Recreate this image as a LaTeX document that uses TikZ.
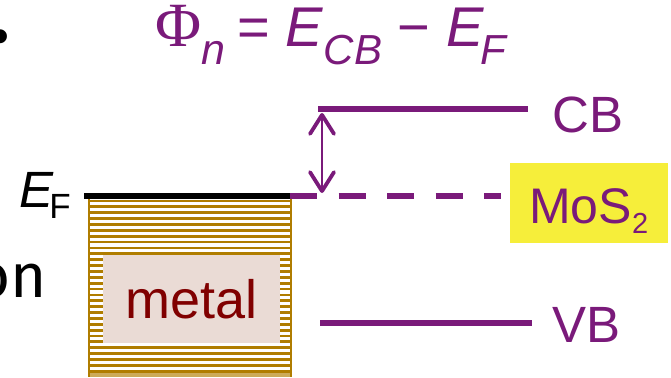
\documentclass[tikz,border=0pt]{standalone}
\usepackage{fontspec}
\setmainfont{Liberation Sans}
\newfontfamily\phifont{Liberation Serif}
\newfontfamily\handfont{Fira Sans}
\usetikzlibrary{arrows.meta,positioning}
\definecolor{bandpurple}{RGB}{122,26,122}
\definecolor{metalgold}{RGB}{176,125,0}
\definecolor{metalpink}{RGB}{234,219,213}
\definecolor{metalred}{RGB}{128,0,0}
\definecolor{mosyellow}{RGB}{246,238,58}
\newcommand{\fsz}[1]{\fontsize{#1}{#1}\selectfont}
\newcommand{\lowsub}[2]{\raisebox{#1}{#2}}

\begin{document}
\begin{tikzpicture}[x=1pt, y=-1pt,
    level/.style={line width=6.5pt, bandpurple},
    fermi/.style={line width=6pt, black},
    hatchline/.style={line width=2.8pt, metalgold},
    lbl/.style={text=bandpurple, font=\fsz{51}, inner sep=0pt},
    arr/.style={{Straight Barb[length=19pt, width=24pt, line width=3.8pt, round]}-{Straight Barb[length=19pt, width=24pt, line width=3.8pt, round]},
                line width=2.5pt, bandpurple},
]
    \useasboundingbox (0,0) rectangle (671,377);
    \clip (0,0) rectangle (671,377);

    % cut-off text at the left edge
    \node[anchor=base, inner sep=0pt, font=\handfont\fsz{100}] (dotfrag) at (0,43) {.};
    \node[anchor=base east, inner sep=0pt, font=\handfont\fsz{62}] (onfrag) at (47,297) {on};

    % formula
    \node[anchor=base west, inner sep=0pt, text=bandpurple] (phin) at (155,47)
        {{\phifont\fsz{63}Φ}\lowsub{-18pt}{\fsz{43}\itshape n}{\fsz{56}\kern-3pt{} = \textit{E}}\lowsub{-18pt}{\fsz{42}\itshape CB}{\fsz{56} − \textit{E}}\lowsub{-18pt}{\fsz{42}\kern-3pt\itshape F}};

    % metal
    \fill[white] (88,199) rectangle (292,377);
    \foreach \y in {201,206.87,...,372} \draw[hatchline] (89,\y) -- (292,\y);
    \fill[metalgold!65] (88,373) rectangle (292,377);
    \draw[metalgold, line width=2pt] (89,199) -- (89,377) (291,199) -- (291,377);
    \node[fill=metalpink, minimum width=177pt, minimum height=88pt, inner sep=0pt,
          text=metalred, font=\fsz{54}] (metal) at (191.5,299) {metal};

    % Fermi level
    \coordinate (efL) at (84,196);
    \coordinate (efR) at (290,196);
    \coordinate (efEnd) at (501,196);
    \draw[fermi] (efL) -- (efR);
    \draw[level, dash pattern=on 27pt off 21.5pt] (efR) -- (efEnd);
    \node[anchor=base east, inner sep=0pt] (eflabel) at (71,207)
        {\fsz{51}\textit{E}\kern-5pt\lowsub{-11pt}{\fsz{35}F}};

    % bands
    \coordinate (cbL) at (318,109);
    \coordinate (cbR) at (528,109);
    \coordinate (vbL) at (320,323);
    \coordinate (vbR) at (532,323);
    \draw[level] (cbL) -- (cbR);
    \draw[level] (vbL) -- (vbR);
    \node[lbl, anchor=base west] (cb) at (552,132) {CB};
    \node[lbl, anchor=base west] (vb) at (552,342) {VB};

    % barrier arrow
    \coordinate (arrTop) at (322,113);
    \coordinate (arrBot) at (322,193);
    \draw[arr] (arrTop) -- (arrBot);

    % semiconductor
    \node[fill=mosyellow, minimum width=158pt, minimum height=80pt, inner sep=0pt,
          anchor=north west] (mosbox) at (510,163) {};
    \node[anchor=base west, inner sep=0pt, text=bandpurple] (mos) at (529,223)
        {\fsz{50}MoS\lowsub{-10pt}{\fsz{29}2}};
\end{tikzpicture}
\end{document}
